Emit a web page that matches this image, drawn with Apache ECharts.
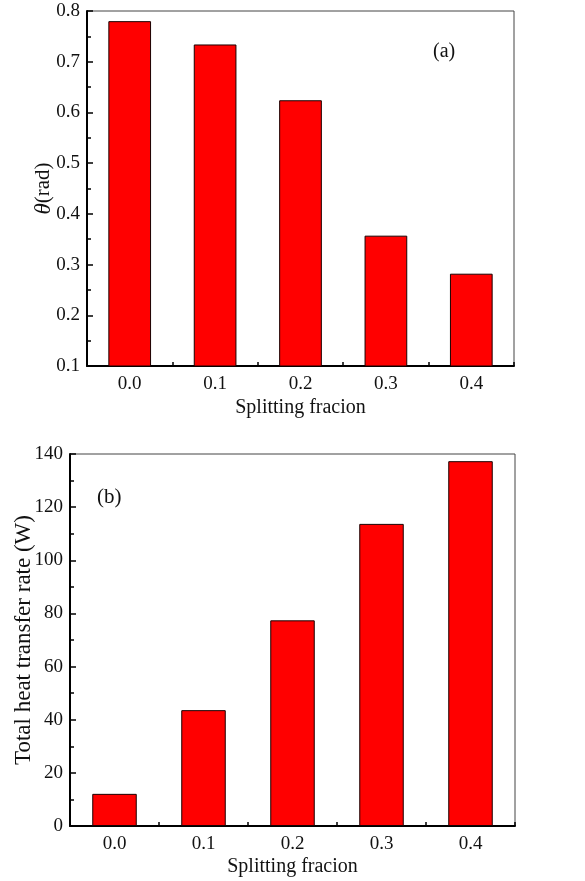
<!DOCTYPE html>
<html>
<head>
<meta charset="utf-8">
<script src="https://cdn.jsdelivr.net/npm/echarts@6/dist/echarts.min.js"></script>
<style>
html,body{margin:0;padding:0;background:#fff;}
#c{width:585px;height:881px;}
</style>
</head>
<body>
<div id="c"></div>
<script>
const categories = ['0.0', '0.1', '0.2', '0.3', '0.4'];
const thetaValues = [0.780, 0.734, 0.624, 0.357, 0.282];
const heatValues = [12.1, 43.6, 77.4, 113.7, 137.3];
const thetaTicks = { min: 0.1, max: 0.8, interval: 0.1 };
const heatTicks = { min: 0, max: 140, interval: 20 };

const FONT = '"Liberation Serif", "Times New Roman", serif';
const chart = echarts.init(document.getElementById('c'), null, { renderer: 'canvas' });

function xAxes(gridIndex, nameGap) {
  return [
    {
      type: 'category', gridIndex: gridIndex, data: categories, position: 'bottom',
      boundaryGap: true,
      axisLine: { show: true, lineStyle: { color: '#000', width: 2 } },
      axisTick: { show: true, alignWithLabel: true, inside: true, length: 6, lineStyle: { color: '#000', width: 1.5 } },
      axisLabel: { show: true, fontFamily: FONT, fontSize: 19, color: '#111', margin: 9 },
      name: 'Splitting fracion', nameLocation: 'middle', nameGap: nameGap, nameMoveOverlap: false,
      nameTextStyle: { fontFamily: FONT, fontSize: 20, color: '#111' },
      splitLine: { show: false }
    },
    {
      type: 'category', gridIndex: gridIndex, data: categories, position: 'bottom',
      boundaryGap: true,
      axisLine: { show: false },
      axisTick: { show: true, alignWithLabel: false, inside: true, length: 4, lineStyle: { color: '#000', width: 1.5 } },
      axisLabel: { show: false },
      splitLine: { show: false }
    }
  ];
}

function yAxis(gridIndex, ticks, name, nameGap, decimals, nameSize, rich) {
  return {
    type: 'value', gridIndex: gridIndex, min: ticks.min, max: ticks.max, interval: ticks.interval,
    axisLine: { show: true, lineStyle: { color: '#000', width: 2 } },
    axisTick: { show: true, inside: true, length: 6, lineStyle: { color: '#000', width: 1.5 } },
    minorTick: { show: true, splitNumber: 2, length: 4, lineStyle: { color: '#000', width: 1.5 } },
    axisLabel: {
      fontFamily: FONT, fontSize: 19, color: '#111', margin: 7,
      formatter: v => v.toFixed(decimals)
    },
    splitLine: { show: false },
    name: name, nameLocation: 'middle', nameGap: nameGap, nameRotate: 90, nameMoveOverlap: false,
    nameTextStyle: Object.assign({ fontFamily: FONT, fontSize: nameSize, color: '#111' }, rich ? { rich: rich } : {})
  };
}

const barStyle = { color: '#ff0000', borderColor: '#1a0000', borderWidth: 1 };

const option = {
  backgroundColor: '#fff',
  animation: false,
  grid: [
    { left: 87, top: 11, width: 427, height: 355, show: true, borderColor: '#444', borderWidth: 1, backgroundColor: 'transparent', outerBoundsMode: 'none', containLabel: false },
    { left: 70, top: 454, width: 445, height: 372, show: true, borderColor: '#444', borderWidth: 1, backgroundColor: 'transparent', outerBoundsMode: 'none', containLabel: false }
  ],
  xAxis: [].concat(xAxes(0, 32), xAxes(1, 31)),
  yAxis: [
    yAxis(0, thetaTicks, '{i|θ}{r|(rad)}', 32, 1, 21, {
      i: { fontFamily: FONT, fontStyle: 'italic', fontSize: 23, color: '#111' },
      r: { fontFamily: FONT, fontSize: 21, color: '#111' }
    }),
    yAxis(1, heatTicks, 'Total heat transfer rate (W)', 35, 0, 23, null)
  ],
  series: [
    { type: 'bar', xAxisIndex: 0, yAxisIndex: 0, data: thetaValues, barWidth: '50%', itemStyle: barStyle },
    { type: 'bar', xAxisIndex: 2, yAxisIndex: 1, data: heatValues, barWidth: '50%', itemStyle: barStyle }
  ],
  graphic: [
    { type: 'text', left: 433, top: 42, style: { text: '(a)', font: '20px ' + FONT, fill: '#111' } },
    { type: 'text', left: 97, top: 487, style: { text: '(b)', font: '21px ' + FONT, fill: '#111' } }
  ]
};
chart.setOption(option);
</script>
</body>
</html>
